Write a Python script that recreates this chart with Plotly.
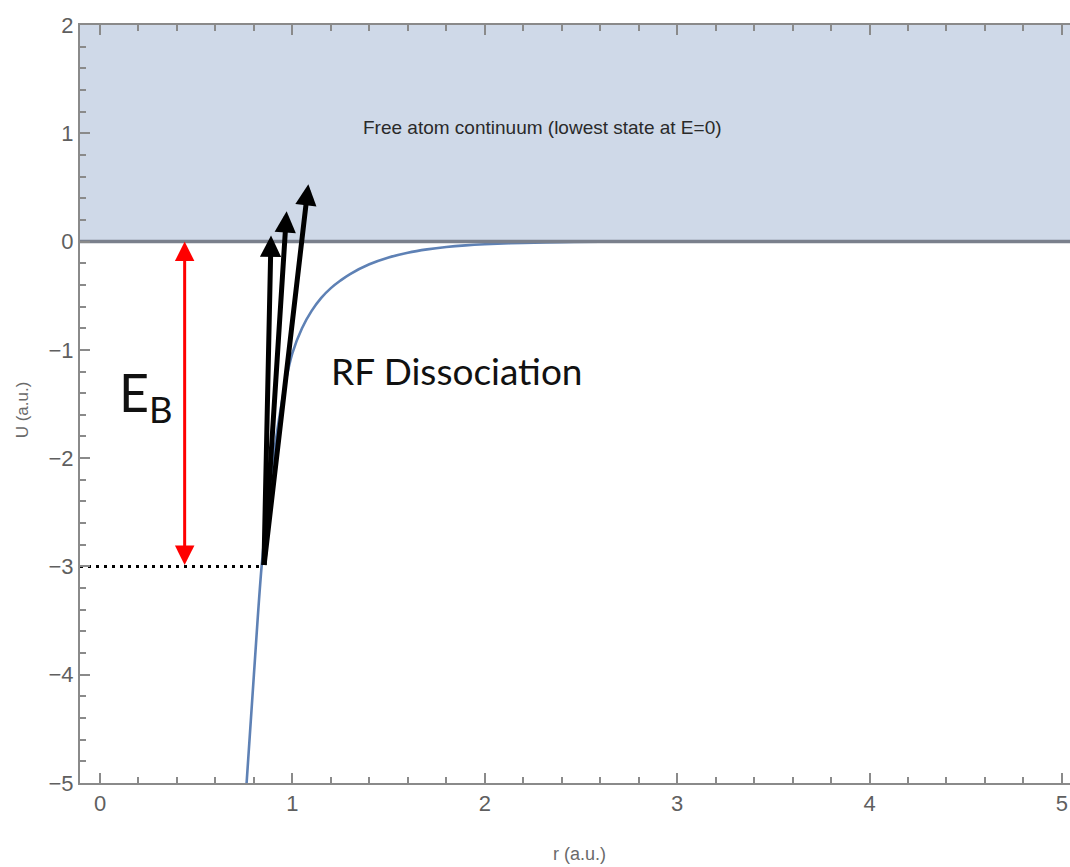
import plotly.graph_objects as go

# Interaction potential U(r), sampled points
r_vals = [0.762, 0.80, 0.84, 0.88, 0.92, 0.96, 1.00, 1.05, 1.10, 1.15, 1.20, 1.25, 1.30,
          1.40, 1.50, 1.60, 1.70, 1.80, 1.90, 2.00, 2.20, 2.40, 2.60, 3.00, 5.10]
u_vals = [-5.0, -4.0, -3.0, -2.3, -1.76, -1.34, -1.03, -0.80, -0.64, -0.52, -0.43, -0.36, -0.30,
          -0.21, -0.147, -0.103, -0.072, -0.050, -0.035, -0.025, -0.012, -0.005, -0.002, 0.0, 0.0]

# Bound state energy and RF transitions into the continuum
bound_energy = -3.0
bound_r = 0.852
transition_r = [0.889, 0.970, 1.083]
transition_u = [0.055, 0.28, 0.53]
eb_arrow_r = 0.44

x_range = [-0.104, 5.042]
y_range = [-5.0, 2.0]
continuum_top = 2.0
continuum_bottom = 0.0

curve_color = "#5E81B5"
fill_color = "rgb(207,217,232)"
frame_color = "#8a8a8a"
tick_font = dict(family="Liberation Sans, Arial, sans-serif", size=22, color="#5f5f5f")

fig = go.Figure()

# Continuum band above E = 0
fig.add_trace(go.Scatter(x=x_range, y=[continuum_bottom, continuum_bottom], mode="lines",
                         line=dict(width=0), hoverinfo="skip", showlegend=False))
fig.add_trace(go.Scatter(x=x_range, y=[continuum_top, continuum_top], mode="lines",
                         fill="tonexty", fillcolor=fill_color, line=dict(width=0),
                         hoverinfo="skip", showlegend=False))

# Potential curve
fig.add_trace(go.Scatter(x=r_vals, y=u_vals, mode="lines",
                         line=dict(color=curve_color, width=2.6, shape="spline", smoothing=1.0),
                         showlegend=False))

# Threshold line at E = 0
fig.add_trace(go.Scatter(x=x_range, y=[continuum_bottom, continuum_bottom], mode="lines",
                         line=dict(color="rgb(122,128,140)", width=3.5),
                         showlegend=False))

# Bound level (dotted)
fig.add_trace(go.Scatter(x=[x_range[0], bound_r], y=[bound_energy, bound_energy], mode="lines",
                         line=dict(color="black", width=3, dash="3px,5px"),
                         showlegend=False))

annotations = []

# Binding energy double arrow
annotations.append(dict(x=eb_arrow_r, y=continuum_bottom, ax=eb_arrow_r, ay=bound_energy,
                        xref="x", yref="y", axref="x", ayref="y", text="",
                        showarrow=True, arrowhead=2, startarrowhead=2, arrowside="end+start",
                        arrowsize=1.3, startarrowsize=1.3, arrowwidth=3, arrowcolor="red",
                        standoff=0, startstandoff=0))

# RF dissociation arrows
for tr, tu in zip(transition_r, transition_u):
    annotations.append(dict(x=tr, y=tu, ax=bound_r, ay=bound_energy,
                            xref="x", yref="y", axref="x", ayref="y", text="",
                            showarrow=True, arrowhead=2, arrowsize=0.85, arrowwidth=5,
                            arrowcolor="black", standoff=0))

# Labels
annotations.append(dict(x=2.30, y=1.05, xref="x", yref="y", showarrow=False,
                        text="Free atom continuum (lowest state at E=0)",
                        font=dict(family="Liberation Sans, Arial, sans-serif", size=19, color="#2a2a2a")))
annotations.append(dict(x=1.19, y=-1.19, xref="x", yref="y", showarrow=False, xanchor="left",
                        text="RF Dissociation",
                        font=dict(family="Lato, sans-serif", size=37, color="#111111")))
annotations.append(dict(x=0.24, y=-1.43, xref="x", yref="y", showarrow=False,
                        text="E<sub>B</sub>",
                        font=dict(family="Lato, sans-serif", size=52, color="#111111")))

# Axis titles (positions in plot-area fractions)
annotations.append(dict(x=(579 - 80) / 990, y=(782.7 - 854) / 758, xref="paper", yref="paper",
                        showarrow=False, text="r (a.u.)", xanchor="center", yanchor="middle",
                        font=dict(family="Liberation Sans, Arial, sans-serif", size=18, color="#6a6a6a")))
annotations.append(dict(x=(22 - 80) / 990, y=(782.7 - 410) / 758, xref="paper", yref="paper",
                        showarrow=False, text="U (a.u.)", textangle=-90,
                        xanchor="center", yanchor="middle",
                        font=dict(family="Liberation Sans, Arial, sans-serif", size=17, color="#6a6a6a")))

fig.update_layout(
    width=1070, height=867,
    margin=dict(l=80, r=0, t=25, b=84),
    paper_bgcolor="white", plot_bgcolor="white",
    annotations=annotations,
    showlegend=False,
)

fig.update_xaxes(range=x_range, showgrid=False, zeroline=False,
                 showline=True, linecolor=frame_color, linewidth=2, mirror="ticks",
                 ticks="inside", ticklen=10, tickwidth=1.5, tickcolor=frame_color,
                 tick0=0, dtick=1, tickfont=tick_font,
                 minor=dict(ticks="inside", ticklen=6, tickwidth=1.5, tickcolor=frame_color, dtick=0.2))
fig.update_yaxes(range=y_range, showgrid=False, zeroline=False,
                 showline=True, linecolor=frame_color, linewidth=2, mirror=False,
                 ticks="inside", ticklen=10, tickwidth=1.5, tickcolor=frame_color,
                 tick0=0, dtick=1, tickfont=tick_font,
                 minor=dict(ticks="inside", ticklen=6, tickwidth=1.5, tickcolor=frame_color, dtick=0.2))

fig.write_html("out.html")
